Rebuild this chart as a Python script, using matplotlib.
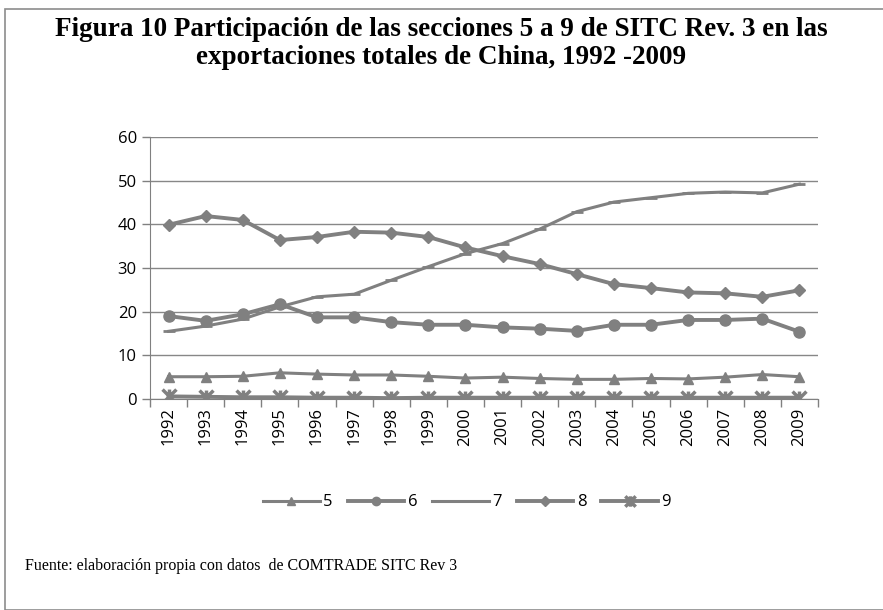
import matplotlib.pyplot as plt
import numpy as np
from matplotlib.patches import Rectangle
from matplotlib.path import Path

years = [str(y) for y in range(1992, 2010)]
s5 = [5.1, 5.1, 5.2, 6.0, 5.7, 5.5, 5.5, 5.2, 4.8, 5.0, 4.7, 4.5, 4.5, 4.7, 4.6, 5.0, 5.6, 5.1]
s6 = [19.0, 17.9, 19.4, 21.7, 18.7, 18.7, 17.6, 17.0, 17.0, 16.4, 16.1, 15.6, 17.0, 17.0, 18.1, 18.1, 18.4, 15.4]
s7 = [15.5, 16.7, 18.3, 21.1, 23.4, 24.0, 27.2, 30.3, 33.3, 35.6, 38.9, 42.9, 45.1, 46.1, 47.1, 47.4, 47.2, 49.2]
s8 = [39.9, 41.9, 41.0, 36.4, 37.1, 38.3, 38.1, 37.1, 34.7, 32.7, 30.9, 28.6, 26.3, 25.4, 24.4, 24.2, 23.4, 24.9]
s9 = [0.6, 0.5, 0.4, 0.4, 0.3, 0.3, 0.2, 0.3, 0.3, 0.3, 0.3, 0.3, 0.3, 0.3, 0.3, 0.3, 0.3, 0.3]

gris = '#808080'
x = np.arange(len(years))

# marcador asterisco estilo Excel (x + barra vertical)
estrella = Path([(-1, -1), (1, 1), (-1, 1), (1, -1), (0, -1), (0, 1)],
                [Path.MOVETO, Path.LINETO, Path.MOVETO, Path.LINETO, Path.MOVETO, Path.LINETO])

fig = plt.figure(figsize=(8.83, 6.10), dpi=100)
ax = fig.add_axes([150/883, 1-399/610, 668/883, 262/610])

# marco de la figura
fig.patches.append(Rectangle((5/883, 0), 1, 1-9/610, transform=fig.transFigure,
                             fill=False, edgecolor='#8c8c8c', lw=1.2))

ax.plot(x, s5, color=gris, lw=2.2, marker='^', ms=7, label='5')
ax.plot(x, s6, color=gris, lw=2.8, marker='o', ms=8, label='6')
ax.plot(x, s7, color=gris, lw=2.2, marker='_', ms=8, mew=2, label='7')
ax.plot(x, s8, color=gris, lw=2.8, marker='D', ms=6.5, label='8')
ax.plot(x, s9, color=gris, lw=2.8, marker=estrella, ms=10, mew=2.5, label='9')

ax.set_xlim(-0.5, len(years) - 0.5)
ax.set_ylim(0, 60)
ax.set_yticks(range(0, 61, 10))
ax.set_xticks(x)
ax.set_xticklabels(years, rotation=90, fontsize=12, family='Open Sans')
ax.set_xticks(np.arange(-0.5, len(years), 1), minor=True)
ax.tick_params(axis='x', which='major', length=0, pad=6)
ax.tick_params(axis='x', which='minor', length=6, color=gris, width=1)
ax.tick_params(axis='y', length=6, color=gris, width=1, labelsize=12)
for t in ax.get_yticklabels():
    t.set_family('Open Sans')
ax.grid(axis='y', color='#878787', lw=1)
ax.set_axisbelow(True)
for s in ['top', 'right']:
    ax.spines[s].set_visible(False)
ax.spines['left'].set_color(gris)
ax.spines['bottom'].set_color(gris)

leg = ax.legend(ncol=5, frameon=False, loc='center', bbox_to_anchor=((467-150)/668, -0.395),
                prop={'family': 'Open Sans', 'size': 12}, handlelength=3.4,
                columnspacing=0.9, handletextpad=0.2, markerscale=0.75)

fig.text(0.5, 1-30/610, 'Figura 10 Participación de las secciones 5 a 9 de SITC Rev. 3 en las',
         ha='center', va='center', fontsize=19.5, fontweight='bold', family='Liberation Serif')
fig.text(0.5, 1-57/610, 'exportaciones totales de China, 1992 -2009',
         ha='center', va='center', fontsize=19.5, fontweight='bold', family='Liberation Serif')
fig.text(25/883, 1-566/610, 'Fuente: elaboración propia con datos  de COMTRADE SITC Rev 3',
         ha='left', va='center', fontsize=11.5, family='Liberation Serif')

fig.savefig('out.png', dpi=100)
